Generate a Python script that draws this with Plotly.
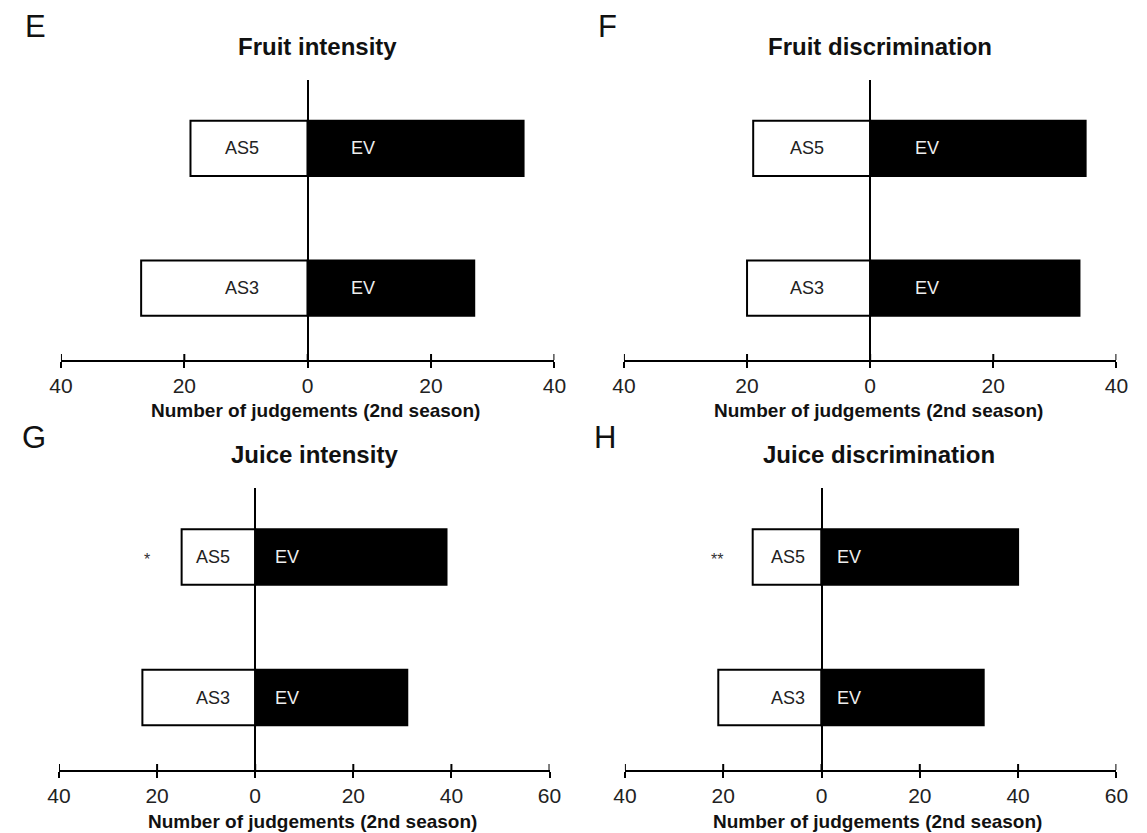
import plotly.graph_objects as go

# ---------------- data ----------------
categories = ["AS3", "AS5"]
panel_letters = ["E", "F", "G", "H"]
panel_titles = ["Fruit intensity", "Fruit discrimination", "Juice intensity", "Juice discrimination"]
x_title = "Number of judgements (2nd season)"

as_counts = {
    "E": [27, 19],
    "F": [20, 19],
    "G": [23, 15],
    "H": [21, 14],
}
ev_counts = {
    "E": [27, 35],
    "F": [34, 35],
    "G": [31, 39],
    "H": [33, 40],
}
significance = {"E": ["", ""], "F": ["", ""], "G": ["", "*"], "H": ["", "**"]}

tick_vals_40 = [-40, -20, 0, 20, 40]
tick_text_40 = ["40", "20", "0", "20", "40"]
tick_vals_60 = [-40, -20, 0, 20, 40, 60]
tick_text_60 = ["40", "20", "0", "20", "40", "60"]

# ---------------- layout settings ----------------
W, H = 1147, 833
FONT = "Liberation Sans, Arial, sans-serif"

def px_x(p):
    return p / W

def px_y(p):
    return 1 - p / H

panels = {
    "E": dict(xd=(50, 554), yd=(360, 80), rng=(-40, 40), tv=tick_vals_40, tt=tick_text_40,
              as_lab=-10.7, ev_lab=8.9, star_x=-22, title_c=312, title_y=46, xt_y=411,
              letter=(24, 27)),
    "F": dict(xd=(625, 1128), yd=(360, 80), rng=(-40, 40), tv=tick_vals_40, tt=tick_text_40,
              as_lab=-10.2, ev_lab=9.2, star_x=-22, title_c=887, title_y=46, xt_y=411,
              letter=(608, 27)),
    "G": dict(xd=(48, 549), yd=(770, 488), rng=(-40, 60), tv=tick_vals_60, tt=tick_text_60,
              as_lab=-8.7, ev_lab=6.5, star_x=-22, title_c=309, title_y=455, xt_y=821,
              letter=(22, 437)),
    "H": dict(xd=(626, 1128), yd=(770, 488), rng=(-40, 60), tv=tick_vals_60, tt=tick_text_60,
              as_lab=-6.8, ev_lab=5.6, star_x=-21.3, title_c=886, title_y=455, xt_y=821,
              letter=(606, 437)),
}

fig = go.Figure()
annotations = []
shapes = []
layout_axes = {}

for i, key in enumerate(panel_letters):
    p = panels[key]
    ax = "" if i == 0 else str(i + 1)
    xref, yref = "x" + ax, "y" + ax

    fig.add_trace(go.Bar(
        y=categories, x=[-v for v in as_counts[key]], orientation="h",
        marker=dict(color="white", line=dict(color="black", width=2)),
        width=0.395, xaxis=xref, yaxis=yref, showlegend=False, hoverinfo="skip",
    ))
    fig.add_trace(go.Bar(
        y=categories, x=ev_counts[key], orientation="h",
        marker=dict(color="black", line=dict(color="black", width=2)),
        width=0.395, xaxis=xref, yaxis=yref, showlegend=False, hoverinfo="skip",
    ))

    layout_axes["xaxis" + ax] = dict(
        domain=[px_x(p["xd"][0]), px_x(p["xd"][1])], anchor=yref,
        range=list(p["rng"]), tickvals=p["tv"], ticktext=p["tt"],
        showline=True, linecolor="black", linewidth=2,
        ticks="outside", ticklen=6, tickwidth=2, tickcolor="black",
        tickfont=dict(family=FONT, size=21, color="#222"),
        showgrid=False, zeroline=True, zerolinecolor="black", zerolinewidth=2,
        fixedrange=True,
    )
    layout_axes["yaxis" + ax] = dict(
        domain=[px_y(p["yd"][0]), px_y(p["yd"][1])], anchor=xref,
        type="category", categoryorder="array", categoryarray=categories,
        range=[-0.515, 1.49], showline=False, showticklabels=False, ticks="",
        showgrid=False, zeroline=False, fixedrange=True,
    )

    # upward half of each tick mark
    for tv in p["tv"]:
        shapes.append(dict(type="line", xref=xref, yref=yref + " domain",
                           x0=tv, x1=tv, ysizemode="pixel", yanchor=0, y0=0, y1=6,
                           line=dict(color="black", width=2)))

    # labels inside bars
    for j, cat in enumerate(categories):
        annotations.append(dict(x=p["as_lab"], y=cat, xref=xref, yref=yref, text=cat,
                                showarrow=False, font=dict(family=FONT, size=18, color="#222")))
        annotations.append(dict(x=p["ev_lab"], y=cat, xref=xref, yref=yref, text="EV",
                                showarrow=False, font=dict(family=FONT, size=18, color="#eee")))
        if significance[key][j]:
            annotations.append(dict(x=p["star_x"], y=cat, xref=xref, yref=yref,
                                    text=significance[key][j], showarrow=False, yshift=-3,
                                    font=dict(family=FONT, size=16, color="#333")))

    # panel title
    annotations.append(dict(x=px_x(p["title_c"]), y=px_y(p["title_y"]), xref="paper", yref="paper",
                            text="<b>" + panel_titles[i] + "</b>", showarrow=False,
                            xanchor="center", yanchor="middle",
                            font=dict(family=FONT, size=24, color="#111")))
    # x axis title
    annotations.append(dict(x=px_x(p["title_c"] - 2), y=px_y(p["xt_y"]), xref="paper", yref="paper",
                            text="<b>" + x_title + "</b>", showarrow=False,
                            xanchor="center", yanchor="middle",
                            font=dict(family=FONT, size=19, color="#111")))
    # panel letter
    annotations.append(dict(x=px_x(p["letter"][0]), y=px_y(p["letter"][1]), xref="paper", yref="paper",
                            text=key, showarrow=False, xanchor="center", yanchor="middle",
                            font=dict(family=FONT, size=31, color="#111")))

fig.update_layout(
    width=W, height=H, margin=dict(l=0, r=0, t=0, b=0),
    paper_bgcolor="white", plot_bgcolor="white",
    barmode="relative", showlegend=False,
    annotations=annotations, shapes=shapes,
    **layout_axes,
)

fig.write_html("out.html", config={"displayModeBar": False, "staticPlot": True},
               post_script="document.body.style.margin='0px';")
